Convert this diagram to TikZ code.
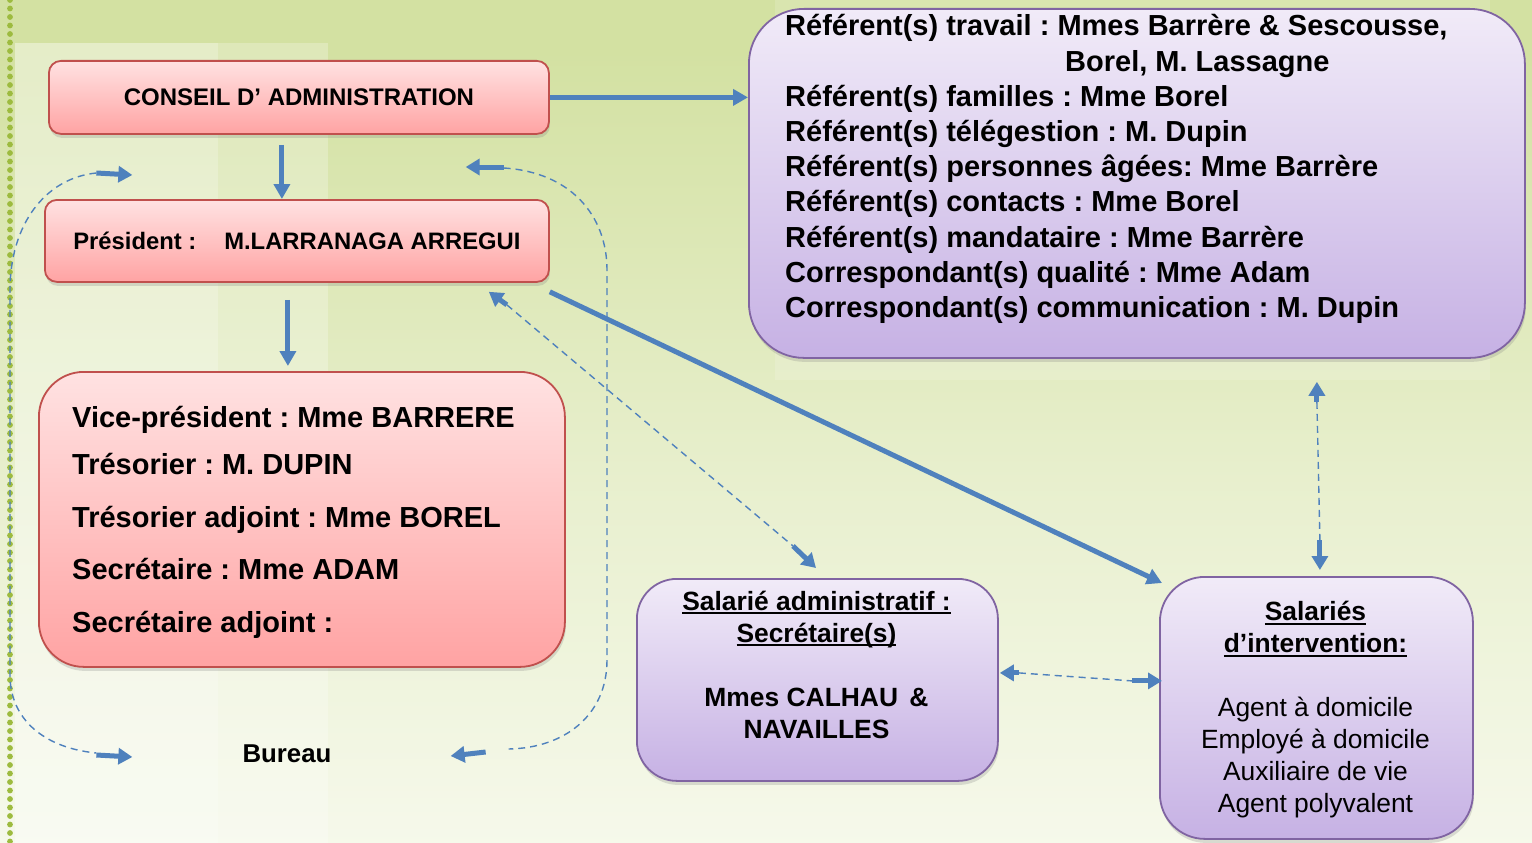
\documentclass[tikz,border=0pt]{standalone}
\usepackage{fontspec}
\setmainfont{Liberation Sans}
\frenchspacing
\usetikzlibrary{arrows.meta,shadows,calc}
\definecolor{arrblue}{HTML}{4F81BD}
\definecolor{redtop}{HTML}{FFE2E2}
\definecolor{redbot}{HTML}{FFA3A3}
\definecolor{redline}{HTML}{C0504D}
\definecolor{purtop}{HTML}{F1EBF8}
\definecolor{purbot}{HTML}{C6B1E4}
\definecolor{purline}{HTML}{8064A2}
\definecolor{bgtop}{HTML}{D3E1A2}
\definecolor{bgmid}{HTML}{E9F0D0}
\definecolor{bgbot}{HTML}{FCFDF8}
\definecolor{dotgreen}{HTML}{9DBB3F}
\pgfdeclareverticalshading{bgshade}{100bp}{color(0bp)=(bgbot); color(15bp)=(bgbot); color(45bp)=(bgmid); color(72bp)=(bgtop); color(100bp)=(bgtop)}
\newcommand\setfs[2]{\fontsize{#1}{#2}\selectfont}
\newcommand\myul[1]{\setbox0\hbox{#1}\rlap{\rule[-4pt]{\wd0}{1.8pt}}\box0}
\tikzset{
  redbox/.style={draw=redline, line width=1.8pt, rounded corners=#1, top color=redtop, bottom color=redbot,
    drop shadow={opacity=0.25, shadow xshift=1pt, shadow yshift=-4pt}, anchor=north west, inner sep=0pt},
  purbox/.style={draw=purline, line width=1.8pt, rounded corners=#1, top color=purtop, bottom color=purbot,
    drop shadow={opacity=0.25, shadow xshift=1pt, shadow yshift=-4pt}, anchor=north west, inner sep=0pt},
  solidarr/.style={draw=arrblue, line width=5pt, -{Triangle[length=15pt,width=16pt]}},
  stub/.style={draw=arrblue, line width=5pt, -{Triangle[length=14pt,width=16pt]}},
  dashline/.style={draw=arrblue, line width=1.4pt, dash pattern=on 7pt off 5pt},
  txt/.style={inner sep=0pt},
}
\begin{document}
\begin{tikzpicture}[x=1pt,y=-1pt]
\useasboundingbox (0,0) rectangle (1532,843);
% background
\shade[shading=bgshade] (0,0) rectangle (1532,843);
\fill[white, opacity=0.25] (15,43) rectangle (328,843);
\fill[white, opacity=0.22] (15,43) rectangle (218,843);
\fill[white, opacity=0.15] (775,0) rectangle (1490,380);
\foreach \y in {0,8.5,...,843} \fill[dotgreen] (10,\y) circle[radius=2.9pt];

% boxes
\node[redbox=12pt, minimum width=500pt, minimum height=73pt, font=\setfs{24}{28}\bfseries] (conseil) at (48,60)
  {CONSEIL D’ ADMINISTRATION};
\node[redbox=12pt, minimum width=504pt, minimum height=82pt, font=\setfs{23.8}{28}\bfseries] (pres) at (44,199)
  {Président :\hspace{28pt}M.LARRANAGA ARREGUI\hspace{8pt}};
\node[redbox=45pt, minimum width=526pt, minimum height=295pt] (bureau) at (38,371) {};
\node[txt, anchor=base west, align=left, font=\setfs{29}{52.5}\bfseries] (bureautxt) at (72,632)
  {Vice-président : Mme BARRERE\\[-5.5pt]
   Trésorier : M. DUPIN\\
   Trésorier adjoint : Mme BOREL\\
   Secrétaire : Mme ADAM\\
   Secrétaire adjoint :};
\node[purbox=55pt, minimum width=776pt, minimum height=349pt] (ref) at (748,8) {};
\node[txt, anchor=base west, align=left, font=\setfs{29}{35.2}\bfseries] (reftxt) at (785,317.4)
  {Référent(s) travail : Mmes Barrère \& Sescousse,\\
   \hspace*{280pt}Borel, M. Lassagne\\
   Référent(s) familles : Mme Borel\\
   Référent(s) télégestion : M. Dupin\\
   Référent(s) personnes âgées: Mme Barrère\\
   Référent(s) contacts : Mme Borel\\
   Référent(s) mandataire : Mme Barrère\\
   Correspondant(s) qualité : Mme Adam\\
   Correspondant(s) communication : M. Dupin};
\node[purbox=40pt, minimum width=361pt, minimum height=202pt] (admin) at (636,578) {};
\node[txt, anchor=base, align=center, font=\setfs{26.4}{32}\bfseries] (admintxt) at (816.5,738)
  {\myul{Salarié administratif :}\\
   \myul{Secrétaire(s)}\\[32pt]
   Mmes CALHAU\hspace{4pt} \&\\
   NAVAILLES};
\node[purbox=45pt, minimum width=313pt, minimum height=262pt] (interv) at (1159,576) {};
\node[txt, anchor=base, align=center, font=\setfs{26.4}{32}\mdseries] (intervtxt) at (1315.5,812.5)
  {\bfseries\myul{Salariés}\\
   \bfseries\myul{d’intervention:}\\[32pt]
   Agent à domicile\\
   Employé à domicile\\
   Auxiliaire de vie\\
   Agent polyvalent};
\node[txt, font=\setfs{25.8}{30}\bfseries] (bureaulbl) at (287,754) {Bureau};

% solid connectors
\draw[solidarr] (conseil.east) -- (conseil.east -| ref.west);
\coordinate (ca) at ($(conseil.south)+(-17,10)$);
\draw[solidarr] (ca) -- (ca |- pres.north);
\coordinate (pb) at ($(pres.south)+(-9,17)$);
\draw[solidarr] (pb) -- ($(pb |- bureau.north)+(0,-5)$);
\draw[solidarr] ($(pres.south east)+(0,9)$) -- ($(interv.north west)+(3,7)$);

% dashed: president <-> admin
\coordinate (d1s) at ($(pres.south east)+(-43,22)$);
\coordinate (d1t) at ($(pres.south east)+(-61,9)$);
\coordinate (d2s) at ($(admin.north west)+(157,-32)$);
\coordinate (d2t) at ($(admin.north west)+(180,-10)$);
\draw[dashline] (d1s) -- (d2s);
\draw[stub] (d1s) -- (d1t);
\draw[stub] (d2s) -- (d2t);

% dashed: referents <-> intervention
\coordinate (v1s) at ($(ref.south)+(180,43)$);
\coordinate (v1t) at ($(ref.south)+(180,23)$);
\coordinate (v2s) at ($(interv.north)+(3.5,-36)$);
\coordinate (v2t) at ($(interv.north)+(3.5,-6)$);
\draw[dashline] (v1s) -- (v2s);
\draw[stub] (v1s) -- (v1t);
\draw[stub] (v2s) -- (v2t);

% dashed: admin <-> intervention
\coordinate (h1s) at ($(admin.east)+(20,-7)$);
\coordinate (h1t) at ($(admin.east)+(1,-7)$);
\coordinate (h2s) at ($(interv.west)+(-27,-27)$);
\coordinate (h2t) at ($(interv.west)+(3,-27)$);
\draw[dashline] (h1s) -- (h2s);
\draw[stub] (h1s) -- (h1t);
\draw[stub] (h2s) -- (h2t);

% left loop
\coordinate (l1s) at ($(bureaulbl.west)+(-146,-581)$);
\coordinate (l1t) at ($(l1s)+(36,2)$);
\coordinate (l2s) at ($(bureaulbl.west)+(-146,1)$);
\coordinate (l2t) at ($(l2s)+(36,2)$);
\draw[dashline] (l1s) .. controls (45,178) and (10,225) .. (10,290) -- (10,675)
  .. controls (10,720) and (45,748) .. ($(l2s)+(0,-2)$);
\draw[stub] (l1s) -- (l1t);
\draw[stub] (l2s) -- (l2t);

% right loop
\coordinate (r1s) at ($(bureaulbl.east)+(172,-587)$);
\coordinate (r1t) at ($(r1s)+(-38,0)$);
\coordinate (r2s) at ($(bureaulbl.east)+(154,-2)$);
\coordinate (r2t) at ($(r2s)+(-35,4)$);
\draw[dashline] ($(r1s)+(0,1)$) .. controls (570,172) and (607,215) .. (607,270) -- (607,660)
  .. controls (607,715) and (565,748) .. ($(r2s)+(23,-3)$);
\draw[stub] (r1s) -- (r1t);
\draw[stub] (r2s) -- (r2t);
\end{tikzpicture}
\end{document}
